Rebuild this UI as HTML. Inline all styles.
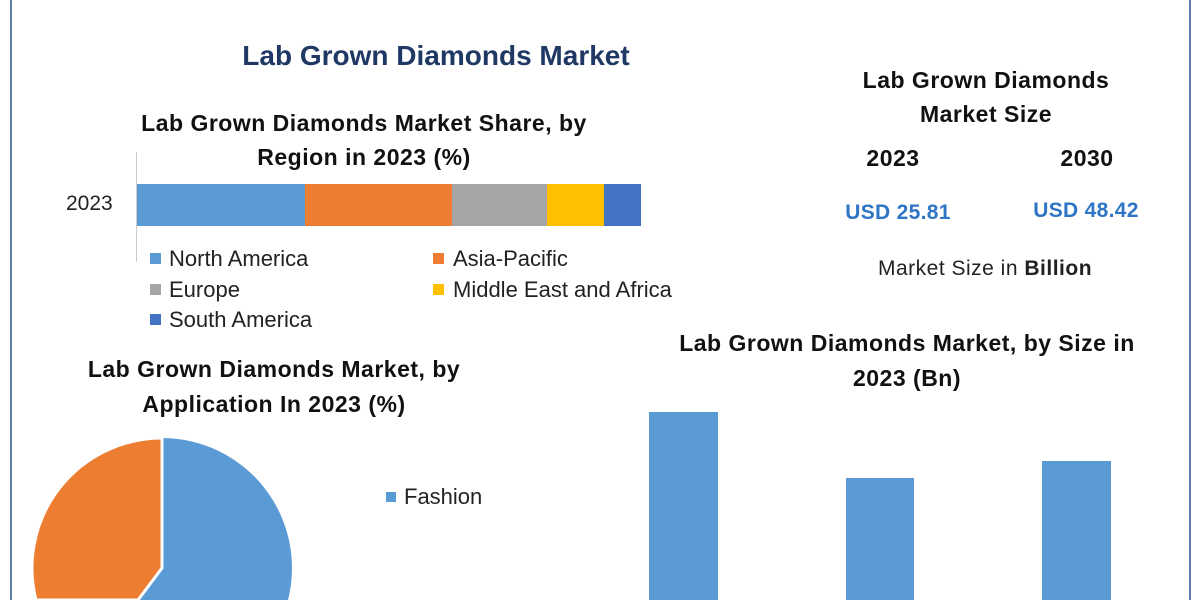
<!DOCTYPE html>
<html style="overflow:hidden"><head><meta charset="utf-8"><style>
html,body{margin:0;width:1200px;height:600px;overflow:hidden;}
body{background:#fff;position:relative;font-family:"Liberation Sans",sans-serif;}
.t{position:absolute;white-space:nowrap;}
.c{position:absolute;white-space:nowrap;transform:translateX(-50%);}
.b{font-weight:bold;color:#111;font-size:23px;letter-spacing:0.5px;}
.sq{position:absolute;width:11px;height:11px;}
.lg{position:absolute;font-size:22px;color:#222;letter-spacing:0px;white-space:nowrap;}
</style></head><body>
<div style="position:absolute;left:10px;top:0;width:2px;height:600px;background:#5b7ea6"></div>
<div style="position:absolute;left:1189px;top:0;width:2px;height:600px;background:#5b7ea6"></div>

<div class="c" style="left:436px;top:40px;font-size:28px;font-weight:bold;color:#1f3864">Lab Grown Diamonds Market</div>

<div class="c b" style="left:364px;top:110px">Lab Grown Diamonds Market Share, by</div>
<div class="c b" style="left:364px;top:144px">Region in 2023 (%)</div>
<div style="position:absolute;left:136px;top:152px;width:1px;height:110px;background:#ccc"></div>
<div class="t" style="left:66px;top:192px;font-size:21px;color:#222">2023</div>
<div style="position:absolute;left:137px;top:184px;height:42px;width:168px;background:#5b9bd5"></div>
<div style="position:absolute;left:305px;top:184px;height:42px;width:147px;background:#ed7d31"></div>
<div style="position:absolute;left:452px;top:184px;height:42px;width:95px;background:#a5a5a5"></div>
<div style="position:absolute;left:547px;top:184px;height:42px;width:57px;background:#ffc000"></div>
<div style="position:absolute;left:604px;top:184px;height:42px;width:37px;background:#4472c4"></div>

<div class="sq" style="left:150px;top:253px;background:#5b9bd5"></div><div class="lg" style="left:169px;top:246px">North America</div>
<div class="sq" style="left:433px;top:253px;background:#ed7d31"></div><div class="lg" style="left:453px;top:246px">Asia-Pacific</div>
<div class="sq" style="left:150px;top:284px;background:#a5a5a5"></div><div class="lg" style="left:169px;top:277px">Europe</div>
<div class="sq" style="left:433px;top:284px;background:#ffc000"></div><div class="lg" style="left:453px;top:277px">Middle East and Africa</div>
<div class="sq" style="left:150px;top:314px;background:#4472c4"></div><div class="lg" style="left:169px;top:307px">South America</div>

<div class="c b" style="left:986px;top:67px">Lab Grown Diamonds</div>
<div class="c b" style="left:986px;top:101px">Market Size</div>
<div class="c b" style="left:893px;top:145px">2023</div>
<div class="c b" style="left:1087px;top:145px">2030</div>
<div class="c" style="left:898px;top:201px;font-size:21px;font-weight:bold;color:#2e75c6;letter-spacing:0.3px">USD 25.81</div>
<div class="c" style="left:1086px;top:199px;font-size:21px;font-weight:bold;color:#2e75c6;letter-spacing:0.3px">USD 48.42</div>
<div class="c" style="left:985px;top:257px;font-size:21px;color:#222;letter-spacing:0.5px">Market Size in <b>Billion</b></div>

<div class="c b" style="left:274px;top:356px">Lab Grown Diamonds Market, by</div>
<div class="c b" style="left:274px;top:391px">Application In 2023 (%)</div>
<svg style="position:absolute;left:0;top:0;overflow:hidden" width="1200" height="600">
<path d="M162 568 L138 600 L288 600 A130 130 0 0 0 162 438 Z" fill="#5b9bd5"/>
<path d="M162 568 L162 438 A130 130 0 0 0 36 600 L138 600 Z" fill="#ed7d31" stroke="#fff" stroke-width="3"/>
</svg>
<div class="sq" style="left:386px;top:492px;background:#5b9bd5;width:10px;height:10px"></div>
<div class="lg" style="left:404px;top:484px">Fashion</div>

<div class="c b" style="left:907px;top:330px">Lab Grown Diamonds Market, by Size in</div>
<div class="c b" style="left:907px;top:365px">2023 (Bn)</div>
<div style="position:absolute;left:649px;top:412px;width:69px;height:188px;background:#5b9bd5"></div>
<div style="position:absolute;left:846px;top:478px;width:68px;height:122px;background:#5b9bd5"></div>
<div style="position:absolute;left:1042px;top:461px;width:69px;height:139px;background:#5b9bd5"></div>
</body></html>
